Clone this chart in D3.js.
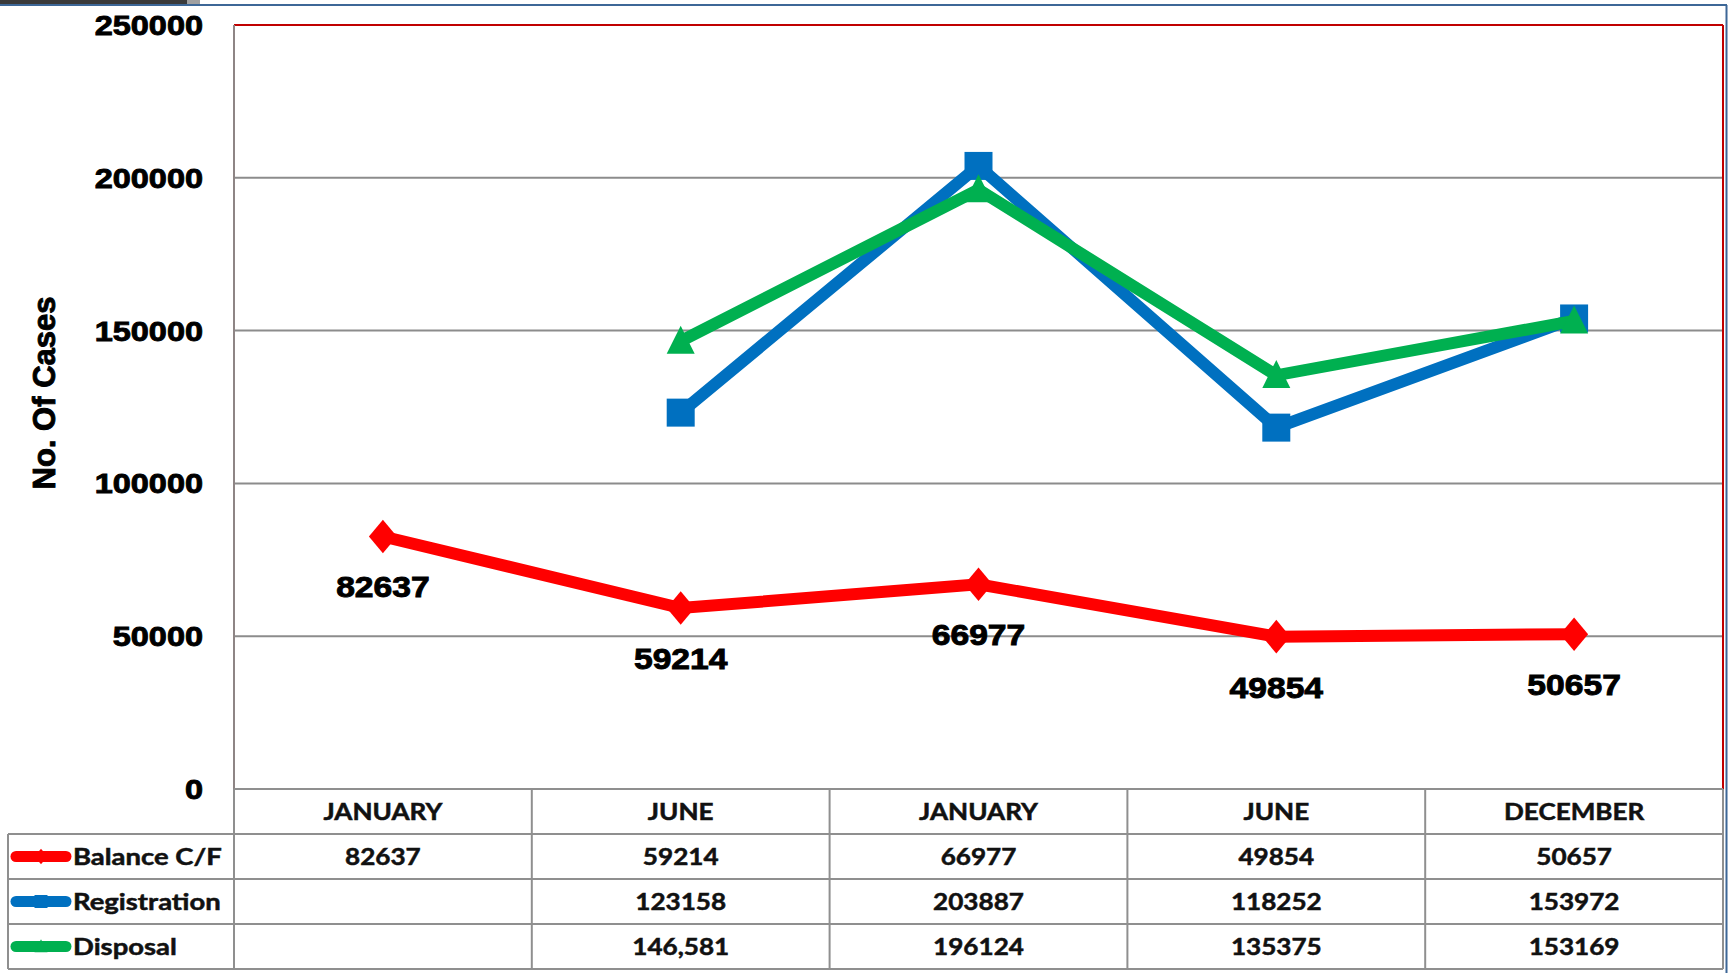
<!DOCTYPE html>
<html>
<head>
<meta charset="utf-8">
<script src="https://cdn.jsdelivr.net/npm/d3@7"></script>
<style>
  body { margin: 0; background: #fff; }
  svg { display: block; }
</style>
</head>
<body>
<div id="chart"></div>
<script>
// chart data
var periods = ["JANUARY", "JUNE", "JANUARY", "JUNE", "DECEMBER"];
var balance = [82637, 59214, 66977, 49854, 50657];
var registration = [null, 123158, 203887, 118252, 153972];
var disposal = [null, 146581, 196124, 135375, 153169];
var tableText = {
  balance: ["82637", "59214", "66977", "49854", "50657"],
  registration: ["", "123158", "203887", "118252", "153972"],
  disposal: ["", "146,581", "196124", "135375", "153169"]
};
var yTicks = [0, 50000, 100000, 150000, 200000, 250000];

var series = [
  { key: "balance", name: "Balance C/F", values: balance, color: "#FF0000", marker: "diamond" },
  { key: "registration", name: "Registration", values: registration, color: "#0070C0", marker: "square" },
  { key: "disposal", name: "Disposal", values: disposal, color: "#00B050", marker: "triangle" }
];

var W = 1730, H = 973;
var plotL = 234, plotR = 1723, plotT = 25, plotB = 789;
var rowH = 45;
var tableL = 8;
var sx = 1.16; // text in the picture is stretched sideways

var svg = d3.select("#chart").append("svg")
  .attr("width", W).attr("height", H);

var x = d3.scaleBand().domain(d3.range(periods.length)).range([plotL, plotR]);
var y = d3.scaleLinear().domain([0, 250000]).range([plotB, plotT]);
var cx = function(i) { return x(i) + x.bandwidth() / 2; };

// frame at the top / right
svg.append("rect").attr("x", 0).attr("y", 0).attr("width", 187).attr("height", 4).attr("fill", "#3a3a3a");
svg.append("rect").attr("x", 187).attr("y", 0).attr("width", 13).attr("height", 4).attr("fill", "#a0a0a0");
svg.append("line").attr("x1", 0).attr("x2", 1727).attr("y1", 5).attr("y2", 5)
  .attr("stroke", "#3d6797").attr("stroke-width", 2);
svg.append("line").attr("x1", 1726.5).attr("x2", 1726.5).attr("y1", 5).attr("y2", H)
  .attr("stroke", "#3d6797").attr("stroke-width", 2);

// gridlines
svg.append("g").selectAll("line")
  .data(yTicks.filter(function(d) { return d > 0 && d < 250000; }))
  .join("line")
  .attr("x1", plotL).attr("x2", plotR)
  .attr("y1", function(d) { return y(d); }).attr("y2", function(d) { return y(d); })
  .attr("stroke", "#8c8c8c").attr("stroke-width", 2);

// plot border
svg.append("line").attr("x1", plotL).attr("x2", plotR).attr("y1", plotT).attr("y2", plotT)
  .attr("stroke", "#c00000").attr("stroke-width", 2);
svg.append("line").attr("x1", plotR).attr("x2", plotR).attr("y1", plotT).attr("y2", plotB)
  .attr("stroke", "#c00000").attr("stroke-width", 2);
svg.append("line").attr("x1", plotL).attr("x2", plotL).attr("y1", plotT).attr("y2", plotB)
  .attr("stroke", "#8e8585").attr("stroke-width", 2);

// y tick labels
svg.append("g").selectAll("text")
  .data(yTicks)
  .join("text")
  .attr("transform", function(d) { return "translate(203," + (y(d) + 10) + ") scale(" + sx + ",1)"; })
  .attr("text-anchor", "end")
  .attr("font-family", "Liberation Sans, Arial, sans-serif")
  .attr("font-weight", "bold")
  .attr("font-size", 28)
  .attr("fill", "#000")
  .attr("stroke", "#000").attr("stroke-width", 0.9)
  .text(function(d) { return d; });

// y title
svg.append("text")
  .attr("transform", "translate(55,393) rotate(-90)")
  .attr("text-anchor", "middle")
  .attr("font-family", "Liberation Sans, Arial, sans-serif")
  .attr("font-weight", "bold")
  .attr("font-size", 31)
  .attr("stroke", "#000").attr("stroke-width", 0.9)
  .text("No. Of Cases");

// marker shapes
var markerPath = function(type, s) {
  if (type == "diamond") {
    return "M0," + (-s * 0.6) + "L" + (s * 0.5) + ",0L0," + (s * 0.6) + "L" + (-s * 0.5) + ",0Z";
  } else if (type == "square") {
    return "M" + (-s / 2) + "," + (-s / 2) + "h" + s + "v" + s + "h" + (-s) + "Z";
  } else {
    return "M0," + (-s * 0.55) + "L" + (s / 2) + "," + (s * 0.45) + "L" + (-s / 2) + "," + (s * 0.45) + "Z";
  }
};

var line = d3.line()
  .defined(function(d) { return d != null; })
  .x(function(d, i) { return cx(i); })
  .y(function(d) { return y(d); });

series.forEach(function(s) {
  var g = svg.append("g");
  g.append("path")
    .attr("d", line(s.values))
    .attr("fill", "none")
    .attr("stroke", s.color)
    .attr("stroke-width", 12)
    .attr("stroke-linejoin", "miter");
  g.selectAll("path.mk")
    .data(s.values.map(function(v, i) { return { v: v, i: i }; }).filter(function(d) { return d.v != null; }))
    .join("path")
    .attr("class", "mk")
    .attr("transform", function(d) { return "translate(" + cx(d.i) + "," + y(d.v) + ")"; })
    .attr("d", markerPath(s.marker, 28))
    .attr("fill", s.color);
});

// data labels for Balance C/F
svg.append("g").selectAll("text")
  .data(balance)
  .join("text")
  .attr("transform", function(d, i) { return "translate(" + cx(i) + "," + (y(d) + 61) + ") scale(" + sx + ",1)"; })
  .attr("text-anchor", "middle")
  .attr("font-family", "Liberation Sans, Arial, sans-serif")
  .attr("font-weight", "bold")
  .attr("font-size", 29)
  .attr("fill", "#000")
  .attr("stroke", "#000").attr("stroke-width", 0.9)
  .text(function(d) { return d; });

// data table
var tg = svg.append("g");
var rowTop = function(r) { return plotB + r * rowH; };
var tableB = rowTop(4);
var gridCol = "#8f8f8f";

// horizontal lines
tg.append("line").attr("x1", plotL).attr("x2", plotR).attr("y1", plotB).attr("y2", plotB)
  .attr("stroke", gridCol).attr("stroke-width", 2);
[1, 2, 3, 4].forEach(function(r) {
  tg.append("line").attr("x1", tableL).attr("x2", plotR).attr("y1", rowTop(r)).attr("y2", rowTop(r))
    .attr("stroke", gridCol).attr("stroke-width", 2);
});
// vertical lines
tg.append("line").attr("x1", tableL).attr("x2", tableL).attr("y1", rowTop(1)).attr("y2", tableB)
  .attr("stroke", gridCol).attr("stroke-width", 2);
d3.range(periods.length + 1).forEach(function(i) {
  var xx = i < periods.length ? x(i) : plotR;
  tg.append("line").attr("x1", xx).attr("x2", xx).attr("y1", plotB).attr("y2", tableB)
    .attr("stroke", gridCol).attr("stroke-width", 2);
});

var cellText = function(txt, xx, r, anchor, stretch) {
  tg.append("text")
    .attr("transform", "translate(" + xx + "," + (rowTop(r) + rowH / 2 + 8) + ") scale(" + stretch + ",1)")
    .attr("text-anchor", anchor)
    .attr("font-family", "Lato, sans-serif")
    .attr("font-weight", "bold")
    .attr("font-size", 22.5)
    .attr("fill", "#111")
    .attr("stroke", "#111").attr("stroke-width", 0.5)
    .text(txt);
};

// header row
periods.forEach(function(p, i) { cellText(p, cx(i), 0, "middle", sx); });

// series rows with legend keys
series.forEach(function(s, k) {
  var r = k + 1;
  var yc = rowTop(r) + rowH / 2;
  tg.append("line").attr("x1", 16).attr("x2", 66).attr("y1", yc).attr("y2", yc)
    .attr("stroke", s.color).attr("stroke-width", 11).attr("stroke-linecap", "round");
  tg.append("path")
    .attr("transform", "translate(41," + yc + ")")
    .attr("d", markerPath(s.marker, 13))
    .attr("fill", s.color);
  cellText(s.name, 73, r, "start", 1.22);
  tableText[s.key].forEach(function(t, i) { cellText(t, cx(i), r, "middle", sx); });
});
</script>
</body>
</html>
